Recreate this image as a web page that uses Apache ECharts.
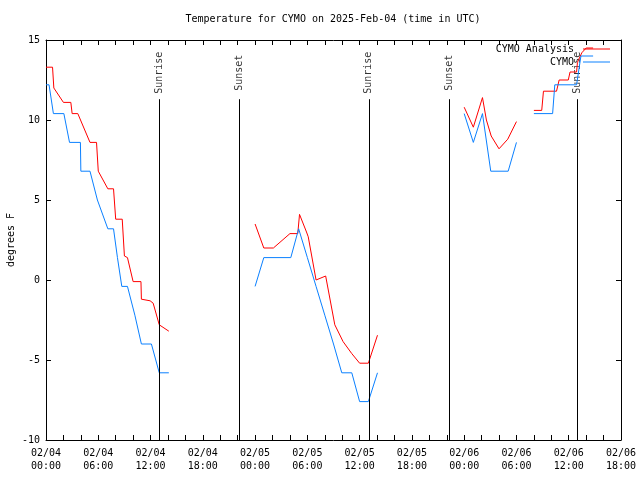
<!DOCTYPE html>
<html>
<head>
<meta charset="utf-8">
<script src="https://cdn.jsdelivr.net/npm/echarts@6/dist/echarts.min.js"></script>
<style>html,body{margin:0;padding:0;background:#fff;}#c{width:640px;height:480px;}</style>
</head>
<body>
<div id="c"></div>
<script>
// hours since 2025-02-04 00:00 UTC
const analysisHours = [0,0.75,0.9,2.0,2.85,3.0,3.65,5.05,5.8,6.0,7.1,7.75,8.0,8.75,9.0,9.35,10.0,10.9,10.95,11.95,12.3,13.0,14.1, 19,
  24.0,25.0,26.1,28.0,28.9,29.1,29.9,30.1,31.0,32.1,33.15,34.1,35.1,36.0,37.0,38.05, 43,
  48.0,49.05,50.1,50.55,51.1,52.0,53.0,54.0, 55,
  56.0,56.9,57.1,58.6,58.9,59.95,60.15,60.9,61.0,61.5,62.0,62.8];
const analysisTemps = [13.3,13.3,12.0,11.1,11.1,10.4,10.4,8.6,8.6,6.8,5.7,5.7,3.8,3.8,1.5,1.4,-0.1,-0.1,-1.2,-1.3,-1.45,-2.8,-3.2, null,
  3.5,2.0,2.0,2.9,2.9,4.1,3.0,2.7,0.0,0.25,-2.8,-3.85,-4.6,-5.2,-5.2,-3.45, null,
  10.8,9.55,11.4,10.0,9.0,8.2,8.8,9.9, null,
  10.6,10.6,11.8,11.8,12.5,12.5,13.0,13.0,13.6,14.2,14.5,14.5];
const obsHours = [0,0.35,0.85,2.05,2.7,3.95,4.0,5.05,5.9,7.1,7.75,8.2,8.7,9.35,10.2,10.95,12.1,13.0,14.1, 19,
  24.0,25.0,28.1,29.0,30.0,31.0,32.0,33.0,33.95,35.1,36.0,37.0,38.05, 43,
  48.0,49.05,50.1,51.05,53.05,54.0, 55,
  56.0,58.15,58.4,60.9,61.4,62.8];
const obsTemps = [12.2,12.2,10.4,10.4,8.6,8.6,6.8,6.8,5.0,3.2,3.2,1.4,-0.4,-0.4,-2.2,-4.0,-4.0,-5.8,-5.8, null,
  -0.4,1.4,1.4,3.2,1.4,-0.4,-2.2,-4.0,-5.8,-5.8,-7.6,-7.6,-5.8, null,
  10.4,8.6,10.4,6.8,6.8,8.6, null,
  10.4,10.4,12.2,12.2,14.0,14.0];
const sunLabels = ['Sunrise','Sunset','Sunrise','Sunset','Sunrise'];
const sunHours = [13.0, 22.2, 37.05, 46.3, 61.0];
const seriesNames = ['CYMO Analysis', 'CYMO'];
const titleText = 'Temperature for CYMO on 2025-Feb-04 (time in UTC)';
const yName = 'degrees F';

const FONT = 'DejaVu Sans Mono';
function toPairs(hs, ts) { return hs.map((h, i) => [h, ts[i] === null ? '-' : ts[i]]); }
function fmtHour(h) {
  const d = 4 + Math.floor(h / 24);
  const hh = h % 24;
  return '02/0' + d + '\n' + (hh < 10 ? '0' : '') + hh + ':00';
}
const SUN_LINE_TOP = 11.3;
const SUN_LABEL_Y = 12.95;

const chart = echarts.init(document.getElementById('c'), null, {renderer: 'canvas'});
const axisCommon = {
  axisLine: {show: true, onZero: false, lineStyle: {color: '#000', width: 1}},
  axisTick: {show: true, inside: true, length: 5, lineStyle: {color: '#000'}},
  splitLine: {show: false}
};
chart.setOption({
  animation: false,
  backgroundColor: '#fff',
  graphic: [{
    type: 'text', x: 333, y: 19,
    style: {text: titleText, font: '10px "' + FONT + '"', fill: '#000', textAlign: 'center', textVerticalAlign: 'middle'}
  }],
  grid: {left: 46, right: 19, top: 40, bottom: 40, containLabel: false, outerBoundsMode: 'none'},
  legend: {
    data: seriesNames.map(n => ({name: n, icon: 'rect'})),
    orient: 'vertical', right: 30, top: 43, align: 'right', padding: 0,
    itemWidth: 27, itemHeight: 1, itemGap: 1,
    textStyle: {fontFamily: FONT, fontSize: 10, color: '#000', padding: [0, 4, 0, 0], lineHeight: 12}
  },
  xAxis: [
    Object.assign({}, axisCommon, {
      type: 'value', min: 0, max: 66, interval: 6, position: 'bottom',
      minorTick: {show: true, splitNumber: 3, length: 5, lineStyle: {color: '#000'}},
      axisLabel: {formatter: fmtHour, fontFamily: FONT, fontSize: 10, color: '#000', lineHeight: 13, margin: 7, showMaxLabel: true, showMinLabel: true}
    }),
    Object.assign({}, axisCommon, {
      type: 'value', min: 0, max: 66, interval: 6, position: 'top',
      minorTick: {show: true, splitNumber: 3, length: 5, lineStyle: {color: '#000'}},
      axisLabel: {show: false}
    })
  ],
  yAxis: [
    Object.assign({}, axisCommon, {
      type: 'value', min: -10, max: 15, interval: 5, position: 'left',
      name: yName, nameLocation: 'middle', nameGap: 30, nameRotate: 90, nameMoveOverlap: false,
      nameTextStyle: {fontFamily: FONT, fontSize: 10, color: '#000'},
      axisLabel: {fontFamily: FONT, fontSize: 10, color: '#000', margin: 6}
    }),
    Object.assign({}, axisCommon, {
      type: 'value', min: -10, max: 15, interval: 5, position: 'right',
      axisLabel: {show: false}
    })
  ],
  series: [
    {
      name: 'sun', type: 'line', data: [], silent: true,
      markLine: {
        silent: true, symbol: ['none', 'none'], animation: false,
        label: {show: false},
        lineStyle: {color: '#000', width: 1, type: 'solid'},
        data: sunHours.map(h => [{coord: [h, SUN_LINE_TOP]}, {coord: [h, -10]}])
      }
    },
    {
      name: 'sunLabels', type: 'scatter', symbolSize: 0, silent: true,
      data: sunHours.map((h, i) => ({value: [h, SUN_LABEL_Y], name: sunLabels[i]})),
      label: {show: true, position: 'inside', rotate: 90, formatter: p => p.name,
        fontFamily: FONT, fontSize: 10, color: '#000'}
    },
    {
      name: seriesNames[0], type: 'line', symbol: 'none', showSymbol: false, connectNulls: false,
      data: toPairs(analysisHours, analysisTemps),
      lineStyle: {color: '#ff0000', width: 1}, itemStyle: {color: '#ff0000'}
    },
    {
      name: seriesNames[1], type: 'line', symbol: 'none', showSymbol: false, connectNulls: false,
      data: toPairs(obsHours, obsTemps),
      lineStyle: {color: '#0a80ff', width: 1}, itemStyle: {color: '#0a80ff'}
    }
  ]
});
</script>
</body>
</html>
